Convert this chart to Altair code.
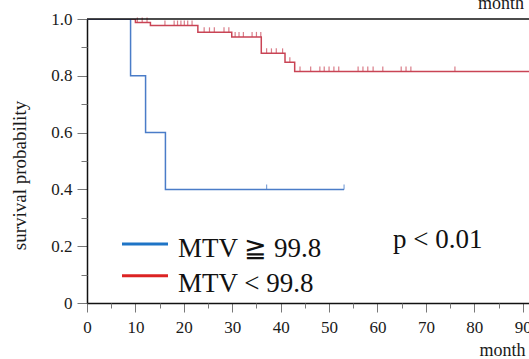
import altair as alt
import pandas as pd

# ---------------- data ----------------
# MTV >= 99.8 (blue)
blue_time = [0.0, 9.0, 12.1, 16.2, 53.1]
blue_surv = [1.0, 0.8, 0.6, 0.4, 0.4]
blue_cens_time = [37.1, 53.1]
blue_cens_surv = [0.4, 0.4]

# MTV < 99.8 (red)
red_time = [0.0, 10.0, 13.1, 22.9, 29.9, 36.0, 40.9, 42.9, 95.0]
red_surv = [1.0, 0.988, 0.977, 0.953, 0.937, 0.879, 0.848, 0.815, 0.815]
red_cens_time = [10.4, 11.4, 12.4,
                 16.1, 18.0, 18.7, 19.4, 20.1, 20.8, 21.7,
                 24.2, 25.3, 26.3, 28.3, 29.3,
                 30.6, 31.4, 32.3, 34.1, 35.0, 35.9,
                 37.1, 38.1, 39.1, 40.4,
                 41.9,
                 44.0, 46.2, 48.1, 49.0, 50.0, 51.0, 52.0, 56.0, 57.0, 58.0,
                 59.1, 61.1, 64.9, 65.9, 66.9, 76.0]
red_cens_surv = [0.988, 0.988, 0.988,
                 0.977, 0.977, 0.977, 0.977, 0.977, 0.977, 0.977,
                 0.953, 0.953, 0.953, 0.953, 0.953,
                 0.937, 0.937, 0.937, 0.937, 0.937, 0.937,
                 0.879, 0.879, 0.879, 0.879,
                 0.848,
                 0.815, 0.815, 0.815, 0.815, 0.815, 0.815, 0.815, 0.815, 0.815, 0.815,
                 0.815, 0.815, 0.815, 0.815, 0.815, 0.815]

x_major = [0, 10, 20, 30, 40, 50, 60, 70, 80, 90]
x_minor = [5, 15, 25, 35, 45, 55, 65, 75, 85]
y_major = [0.0, 0.2, 0.4, 0.6, 0.8, 1.0]
y_minor = [0.1, 0.3, 0.5, 0.7, 0.9]
frame_top = [1.0]

legend_labels = ["MTV \u2267 99.8", "MTV < 99.8"]
p_label = ["p < 0.01"]
x_title = "month"
y_title = "survival probability"

# ---------------- chart ----------------
SERIF = "Liberation Serif"
W, H = 442, 284
BLUE_LINE, RED_LINE = "#4a7cc8", "#c94455"
BLUE_KEY, RED_KEY = "#1e74c6", "#dc2323"
TXT = "#1a1a1a"

xs = alt.Scale(domain=[0, 91.3], nice=False, zero=False)
ys = alt.Scale(domain=[0, 1.0], nice=False)

x_axis = alt.Axis(
    orient="bottom",
    values=x_major,
    tickSize=9,
    labelBaseline="alphabetic",
    labelPadding=20,
    labelFont=SERIF,
    labelFontSize=17,
    labelColor=TXT,
    labelFlush=False,
    grid=False,
    domainColor="#111",
    domainWidth=1.5,
    tickColor="#777",
    tickWidth=1,
    title=x_title,
    titleX=438,
    titleY=52,
    titleAlign="right",
    titleBaseline="alphabetic",
    titleFont=SERIF,
    titleFontSize=18,
    titleFontWeight="normal",
    titleColor=TXT,
)
y_axis = alt.Axis(
    orient="left",
    values=y_major,
    labelExpr="datum.value === 0 ? '0' : format(datum.value, '.1f')",
    tickSize=10,
    labelPadding=5,
    labelFont=SERIF,
    labelFontSize=17,
    labelColor=TXT,
    labelFlush=False,
    grid=False,
    domainColor="#111",
    domainWidth=1.5,
    tickColor="#777",
    tickWidth=1,
    title=y_title,
    titleFont=SERIF,
    titleFontSize=19,
    titleFontWeight="normal",
    titleColor=TXT,
    titleX=-62,
    titleY=156,
    titleAngle=270,
    titleAlign="center",
    titleBaseline="alphabetic",
)
x_minor_axis = alt.Axis(
    orient="bottom", values=x_minor, tickSize=5, labels=False, domain=False,
    grid=False, tickColor="#777", tickWidth=1, title="",
)
y_minor_axis = alt.Axis(
    orient="left", values=y_minor, tickSize=6, labels=False, domain=False,
    grid=False, tickColor="#777", tickWidth=1, title="",
)

X = alt.X("t:Q", scale=xs, axis=x_axis, title=x_title)
Y = alt.Y("s:Q", scale=ys, axis=y_axis, title=y_title)

blue_df = pd.DataFrame({"t": blue_time, "s": blue_surv})
red_df = pd.DataFrame({"t": red_time, "s": red_surv})
blue_c = pd.DataFrame({"t": blue_cens_time, "s": blue_cens_surv})
red_c = pd.DataFrame({"t": red_cens_time, "s": red_cens_surv})

red_line = alt.Chart(red_df).mark_line(
    interpolate="step-after", color=RED_LINE, strokeWidth=1.5, clip=True
).encode(x=X, y=Y)

blue_line = alt.Chart(blue_df).mark_line(
    interpolate="step-after", color=BLUE_LINE, strokeWidth=1.5, clip=True
).encode(x=X, y=Y)

red_ticks = alt.Chart(red_c).mark_tick(
    orient="vertical", color=RED_LINE, size=5, thickness=1.2, yOffset=-2.5
).encode(x=X, y=Y)

blue_ticks = alt.Chart(blue_c).mark_tick(
    orient="vertical", color=BLUE_LINE, size=5, thickness=1.2, yOffset=-2.5
).encode(x=X, y=Y)

frame = alt.Chart(pd.DataFrame({"s": frame_top})).mark_rule(
    color="#111", strokeWidth=1.5
).encode(y=Y)

key_blue = alt.Chart(pd.DataFrame({"label": legend_labels[:1]})).mark_rule(
    color=BLUE_KEY, strokeWidth=3
).encode(x=alt.value(35), x2=alt.value(81), y=alt.value(225))
key_red = alt.Chart(pd.DataFrame({"label": legend_labels[1:]})).mark_rule(
    color=RED_KEY, strokeWidth=3
).encode(x=alt.value(35), x2=alt.value(81), y=alt.value(256.7))

txt_style = dict(align="left", baseline="alphabetic", font=SERIF, fontSize=27, color="#111")
txt_blue = alt.Chart(pd.DataFrame({"label": legend_labels[:1]})).mark_text(**txt_style).encode(
    x=alt.value(91), y=alt.value(237.7), text="label:N")
txt_red = alt.Chart(pd.DataFrame({"label": legend_labels[1:]})).mark_text(**txt_style).encode(
    x=alt.value(91), y=alt.value(272.7), text="label:N")
txt_p = alt.Chart(pd.DataFrame({"label": p_label})).mark_text(**txt_style).encode(
    x=alt.value(306), y=alt.value(229.3), text="label:N")
txt_top = alt.Chart(pd.DataFrame({"label": [x_title]})).mark_text(
    align="right", baseline="alphabetic", font=SERIF, fontSize=18, color=TXT
).encode(x=alt.value(437), y=alt.value(-10), text="label:N")

main = alt.layer(
    red_line, blue_line, red_ticks, blue_ticks, frame,
    key_blue, key_red, txt_blue, txt_red, txt_p, txt_top,
)

minor_x = alt.Chart(pd.DataFrame({"t": x_minor})).mark_point(opacity=0).encode(
    x=alt.X("t:Q", scale=xs, axis=x_minor_axis))
minor_y = alt.Chart(pd.DataFrame({"s": y_minor})).mark_point(opacity=0).encode(
    y=alt.Y("s:Q", scale=ys, axis=y_minor_axis))
minor = alt.layer(minor_x, minor_y)

chart = alt.layer(main, minor).resolve_axis(
    x="independent", y="independent"
).properties(
    width=W,
    height=H,
    autosize=alt.AutoSizeParams(type="none"),
    padding={"left": 87, "top": 19, "right": 0, "bottom": 56},
).configure_view(
    stroke="transparent"
)

chart.save("out.html", embed_options={"renderer": "svg", "actions": False})
